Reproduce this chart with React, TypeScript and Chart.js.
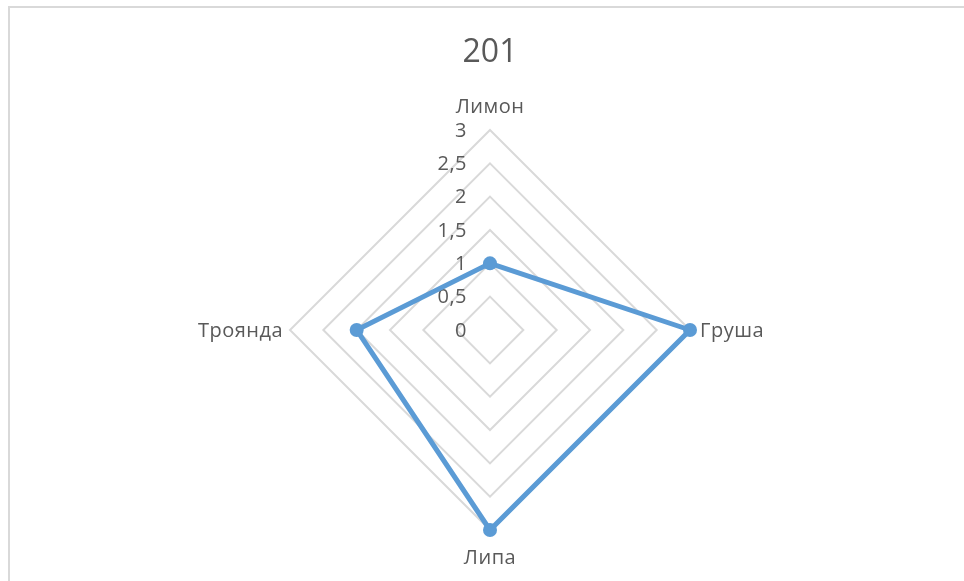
import React, { useEffect, useRef } from "react";
import { Chart, registerables } from "chart.js";

Chart.register(...registerables);

const chartTitle = "201";
const categories = ["Лимон", "Груша", "Липа", "Троянда"];
const seriesValues = [1, 3, 3, 2];
const tickValues = [0, 0.5, 1, 1.5, 2, 2.5, 3];
const tickLabels = ["0", "0,5", "1", "1,5", "2", "2,5", "3"];

const TEXT_COLOR = "#595959";
const FONT_FAMILY = "'Open Sans', 'Noto Sans', sans-serif";
const LABEL_SIZE = 20;

const labelsPlugin = {
  id: "excelLabels",
  beforeDatasetsDraw(chart: any) {
    const scale = chart.scales.r;
    const ctx = chart.ctx;
    ctx.save();
    ctx.fillStyle = TEXT_COLOR;
    ctx.font = `${LABEL_SIZE}px ${FONT_FAMILY}`;
    try {
      (ctx as any).letterSpacing = "0.5px";
    } catch (e) {}
    // tick labels, right-aligned left of the vertical axis
    ctx.textAlign = "right";
    ctx.textBaseline = "middle";
    tickValues.forEach((v, i) => {
      const d = scale.getDistanceFromCenterForValue(v);
      ctx.fillText(tickLabels[i], scale.xCenter - 23, scale.yCenter - d + 1);
    });
    // category labels
    categories.forEach((label, i) => {
      const p = scale.getPointPositionForValue(i, scale.max);
      const dx = p.x - scale.xCenter;
      const dy = p.y - scale.yCenter;
      let x = p.x;
      let y = p.y;
      if (Math.abs(dx) < 1) {
        ctx.textAlign = "center";
        y += dy < 0 ? -24 : 27;
      } else if (dx > 0) {
        ctx.textAlign = "left";
        x += 10;
      } else {
        ctx.textAlign = "right";
        x -= 7;
      }
      ctx.textBaseline = "middle";
      ctx.fillText(label, x, y + 1);
    });
    ctx.restore();
  },
};

export default function App() {
  const canvasRef = useRef<HTMLCanvasElement | null>(null);

  useEffect(() => {
    const canvas = canvasRef.current;
    if (!canvas) return;
    const chart = new Chart(canvas, {
      type: "radar",
      data: {
        labels: categories,
        datasets: [
          {
            label: chartTitle,
            data: seriesValues,
            borderColor: "#5b9bd5",
            backgroundColor: "rgba(0,0,0,0)",
            borderWidth: 5,
            fill: false,
            pointRadius: 7,
            pointBackgroundColor: "#5b9bd5",
            pointBorderColor: "#5b9bd5",
            pointBorderWidth: 0,
          },
        ],
      },
      options: {
        animation: false,
        responsive: false,
        maintainAspectRatio: false,
        layout: { padding: { left: 290, right: 274, top: 0, bottom: 51 } },
        plugins: {
          legend: { display: false },
          tooltip: { enabled: false },
          title: {
            display: true,
            text: chartTitle,
            color: TEXT_COLOR,
            font: { family: FONT_FAMILY, size: 32, weight: "normal", lineHeight: 1.2 },
            padding: { top: 34, bottom: 57.6 },
          },
        },
        scales: {
          r: {
            min: 0,
            max: 3,
            beginAtZero: true,
            startAngle: 0,
            ticks: { display: false, stepSize: 0.5 },
            grid: { circular: false, color: "#d9d9d9", lineWidth: 2 },
            angleLines: { display: false },
            pointLabels: { display: false },
          },
        },
      },
      plugins: [labelsPlugin],
    });
    return () => chart.destroy();
  }, []);

  return (
    <div
      style={{
        position: "fixed",
        left: 0,
        top: 0,
        width: 964,
        height: 581,
        overflow: "hidden",
        background: "#ffffff",
      }}
    >
      <div
        style={{
          position: "absolute",
          left: 8,
          top: 6,
          width: 1200,
          height: 1000,
          borderLeft: "2px solid #d9d9d9",
          borderTop: "2px solid #d9d9d9",
        }}
      />
      <canvas
        ref={canvasRef}
        width={964}
        height={581}
        style={{ position: "absolute", left: 0, top: 0, width: 964, height: 581 }}
      />
    </div>
  );
}
